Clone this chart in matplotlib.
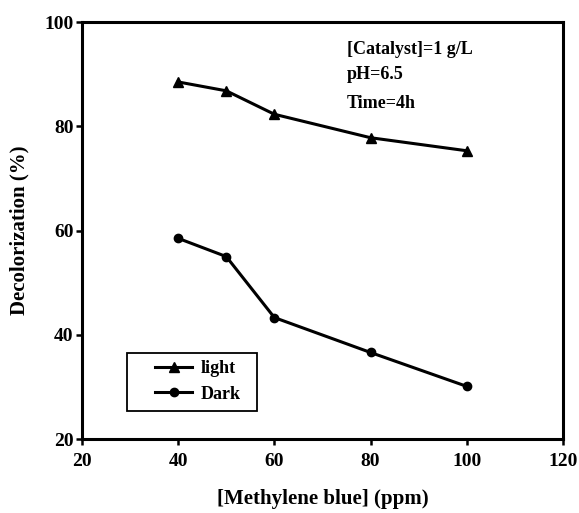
import matplotlib
matplotlib.use('Agg')
import matplotlib.pyplot as plt
from matplotlib.patches import Rectangle

# data
conc = [40, 50, 60, 80, 100]
light = [88.5, 86.8, 82.3, 77.8, 75.3]
dark = [58.5, 55.0, 43.3, 36.6, 30.1]
xticks = [20, 40, 60, 80, 100, 120]
yticks = [20, 40, 60, 80, 100]
notes = ['[Catalyst]=1 g/L', 'pH=6.5', 'Time=4h']

plt.rcParams['font.family'] = 'Liberation Serif'
plt.rcParams['font.weight'] = 'bold'

fig = plt.figure(figsize=(5.79, 5.13), dpi=100)
ax = fig.add_axes([0.1416, 0.1442, 0.8307, 0.8129])

ax.plot(conc, light, color='k', lw=2.2, marker='^', ms=7, label='light')
ax.plot(conc, dark, color='k', lw=2.2, marker='o', ms=6, label='Dark')

ax.set_xlim(20, 120)
ax.set_ylim(20, 100)
ax.set_xticks(xticks)
ax.set_yticks(yticks)
for s in ax.spines.values():
    s.set_linewidth(2.2)
ax.tick_params(direction='out', length=4, width=1.8, labelsize=14)
ax.tick_params(axis='x', pad=6)
ax.tick_params(axis='y', pad=2)
for lab in ax.get_xticklabels() + ax.get_yticklabels():
    lab.set_fontweight('bold')

ax.set_xlabel('[Methylene blue] (ppm)', fontsize=15, fontweight='bold', labelpad=14)
ax.set_ylabel('Decolorization (%)', fontsize=15, fontweight='bold', labelpad=11)

# condition notes
note_y = [0.935, 0.875, 0.805]
for t, yy in zip(notes, note_y):
    ax.text(0.55, yy, t, transform=ax.transAxes, fontsize=13,
            fontweight='bold', va='center', ha='left')

# legend, with its box drawn separately so it can be wider than the entries
leg = ax.legend(loc='center left', bbox_to_anchor=(0.152, 0.138),
                frameon=False, prop={'weight': 'bold', 'size': 13},
                handlelength=2.05, handletextpad=0.45, labelspacing=0.45,
                borderpad=0, borderaxespad=0)
ax.add_patch(Rectangle((0.0936, 0.067), 0.270, 0.139, transform=ax.transAxes,
                       fill=False, edgecolor='k', lw=1.3, zorder=5))

fig.savefig('out.png', dpi=100)
